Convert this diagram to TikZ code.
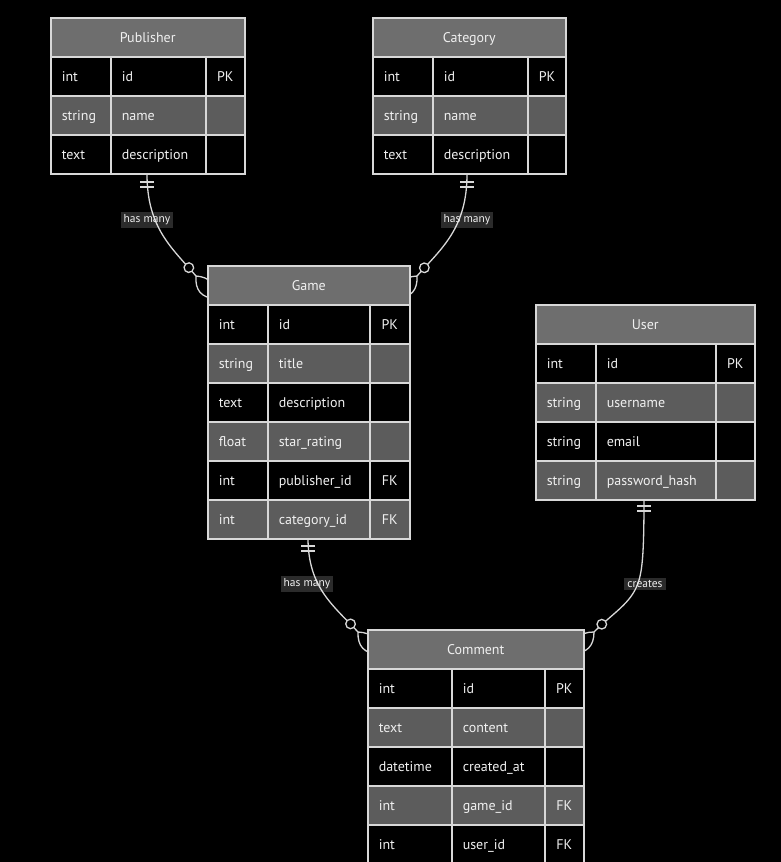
\documentclass[tikz,border=0pt]{standalone}
\usepackage{fontspec}
\setmainfont{PT Sans}
\usetikzlibrary{calc}
\definecolor{hdrgray}{HTML}{6E6E6E}
\definecolor{rowgray}{HTML}{5C5C5C}
\definecolor{linegray}{HTML}{D8D8D8}
\definecolor{txt}{HTML}{F0F0F0}
\tikzset{
  cell/.style={draw=linegray, line width=1.5pt, anchor=north west, inner ysep=0pt, inner xsep=11pt,
    minimum height=39pt, text=txt, font=\fontsize{14}{15}\selectfont, text height=11.5pt, text depth=0.5pt, align=left},
  hdr/.style={cell, fill=hdrgray, align=center},
  rel/.style={draw=linegray, line width=1.3pt},
  lbl/.style={fill=white, fill opacity=0.17, text opacity=1, text=txt, font=\fontsize{11.5}{12}\selectfont,
    inner xsep=3pt, inner ysep=2.5pt},
}
\newcommand\ertable[8]{%
  \pgfmathsetmacro\wh{#5-#2-22}%
  \node[hdr, text width=\wh pt] (#1) at (#2,#6) {#7};
  \foreach \ty/\nm/\ky [count=\i] in {#8} {
    \ifodd\i \def\rf{black}\else\def\rf{rowgray}\fi
    \pgfmathsetmacro\yy{#6+39*\i}
    \pgfmathsetmacro\wa{#3-#2-22}
    \pgfmathsetmacro\wb{#4-#3-22}
    \pgfmathsetmacro\wc{#5-#4-22}
    \node[cell, fill=\rf, text width=\wa pt] (#1-\i-a) at (#2,\yy) {\ty};
    \node[cell, fill=\rf, text width=\wb pt] (#1-\i-b) at (#3,\yy) {\nm};
    \node[cell, fill=\rf, text width=\wc pt, align=center] (#1-\i-c) at (#4,\yy) {\ky};
  }
}
\newcommand\crowzero[2]{%
  \begin{scope}[shift={(#1)}, rotate=#2]
    \draw[rel, fill=black] (-11,0) circle[radius=4.8];
    \draw[rel] (0,0) .. controls (10,10) and (20,10) .. (30,0)
               .. controls (20,-10) and (10,-10) .. (0,0);
  \end{scope}}
\newcommand\onlyone[1]{%
  \draw[rel] ($(#1)+(-7,8)$) -- ($(#1)+(7,8)$);
  \draw[rel] ($(#1)+(-7,13)$) -- ($(#1)+(7,13)$);}
\begin{document}
\begin{tikzpicture}[x=1pt,y=-1pt]
\useasboundingbox (0,0) rectangle (781,862);
\fill[black] (0,0) rectangle (781,862);
% connectors
\coordinate (s1) at (147,174); \coordinate (a1) at (196,276);
\coordinate (s2) at (467,174); \coordinate (a2) at (417,276);
\coordinate (s3) at (308,538); \coordinate (a3) at (358,632);
\coordinate (s4) at (644,498); \coordinate (a4) at (594,632);
\draw[rel] (s1) .. controls (147,228) and (172,248) .. (a1);
\draw[rel] (s2) .. controls (467,228) and (442,248) .. (a2);
\draw[rel] (s3) .. controls (308,588) and (334,606) .. (a3);
\draw[rel] (s4) .. controls (644,560) and (642,575) .. (636,588)
                .. controls (628,605) and (612,614) .. (a4);
\onlyone{s1}\onlyone{s2}\onlyone{s3}\onlyone{s4}
\crowzero{a1}{-49.5}
\crowzero{a2}{-131.8}
\crowzero{a3}{-47.3}
\crowzero{a4}{-135}
% tables
\ertable{pub}{50}{110}{205}{244}{17}{Publisher}{int/id/PK, string/name/{}, text/description/{}}
\ertable{cat}{372}{432}{527}{565}{17}{Category}{int/id/PK, string/name/{}, text/description/{}}
\ertable{game}{207}{267}{369}{409}{265}{Game}{int/id/PK, string/title/{}, text/description/{}, float/star\_rating/{}, int/publisher\_id/FK, int/category\_id/FK}
\ertable{user}{535}{595}{715}{754}{304}{User}{int/id/PK, string/username/{}, string/email/{}, string/password\_hash/{}}
\ertable{cmt}{367}{451}{544}{583}{629}{Comment}{int/id/PK, text/content/{}, datetime/created\_at/{}, int/game\_id/FK, int/user\_id/FK}
% labels
\node[lbl] (l1) at (147,220) {has many};
\node[lbl] (l2) at (467,220) {has many};
\node[lbl] (l3) at (307,584) {has many};
\node[lbl] (l4) at (645,584) {creates};
\end{tikzpicture}
\end{document}
